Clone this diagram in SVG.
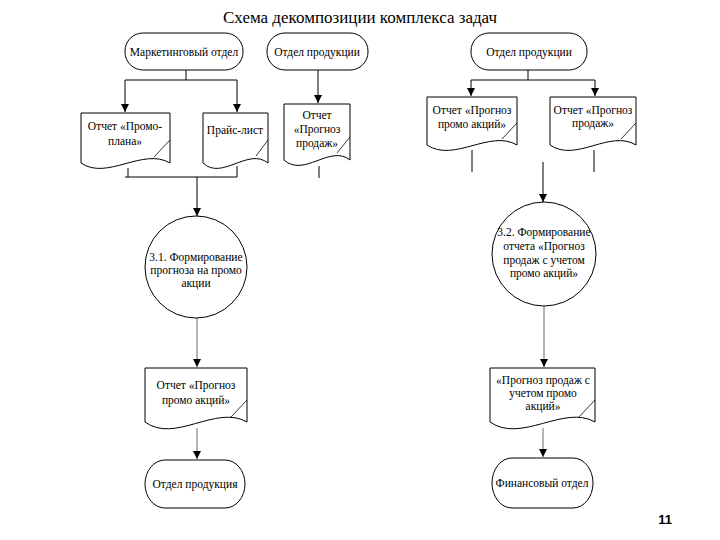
<svg xmlns="http://www.w3.org/2000/svg" width="720" height="540" viewBox="0 0 720 540">
<defs>
<marker id="ar" viewBox="0 0 8 8" refX="8" refY="4" markerWidth="8" markerHeight="8" markerUnits="userSpaceOnUse" orient="auto">
<path d="M0,0 L8,4 L0,8 Z" fill="#000"/>
</marker>
</defs>
<style>
.sh{fill:#fff;stroke:#000;stroke-width:1}
.t{font-family:"Liberation Serif","Times New Roman",serif;font-size:11.5px;fill:#000;text-anchor:middle}
.c{fill:none;stroke:#000;stroke-width:1}
.g{fill:none;stroke:#444;stroke-width:0.8}
.f{fill:none;stroke:#000;stroke-width:0.8}
</style>
<rect width="720" height="540" fill="#fff"/>
<text x="360" y="23" style="font-family:'Liberation Serif','Times New Roman',serif;font-size:17px" text-anchor="middle">Схема декомпозиции комплекса задач</text>

<g id="connectors">
<path class="c" d="M186,70 V80 M125,80 H237"/>
<path class="c" d="M125,80 V112" marker-end="url(#ar)"/>
<path class="c" d="M237,80 V112" marker-end="url(#ar)"/>
<path class="c" d="M318,70 V103" marker-end="url(#ar)"/>
<path class="c" d="M128,168 V177 M237,166 V177 M125,177 H237"/>
<path class="c" d="M197,177 V216" marker-end="url(#ar)"/>
<path class="c" d="M319,166 V178"/>
<path class="g" d="M197,318 V367" marker-end="url(#ar)"/>
<path class="g" d="M197,428 V459" marker-end="url(#ar)"/>
<path class="c" d="M528,70 V80 M471,80 H595"/>
<path class="c" d="M471,80 V96" marker-end="url(#ar)"/>
<path class="c" d="M595,80 V96" marker-end="url(#ar)"/>
<path class="c" d="M472,150 V172 M594,150 V172"/>
<path class="c" d="M543,162 V202" marker-end="url(#ar)"/>
<path class="g" d="M544,306 V367" marker-end="url(#ar)"/>
<path class="g" d="M543,428 V457" marker-end="url(#ar)"/>
</g>

<g id="n-marketing">
<rect class="sh" x="125" y="33" width="118" height="37" rx="18" ry="18"/>
<text class="t" x="184" y="56">Маркетинговый отдел</text>
</g>
<g id="n-prod1">
<rect class="sh" x="267" y="33" width="101" height="37" rx="18" ry="18"/>
<text class="t" x="317" y="56">Отдел продукции</text>
</g>

<g id="n-promoplan">
<path class="sh" d="M81,113 H170 V163 C143,147 107,181 81,163 Z"/>
<path class="f" d="M170,140 L154,157"/>
<text class="t" x="125" y="130">Отчет «Промо-</text>
<text class="t" x="125" y="145">плана»</text>
</g>
<g id="n-price">
<path class="sh" d="M203,113 H268 V163 C248,147 222,181 203,163 Z"/>
<path class="f" d="M268,140 L256,156"/>
<text class="t" x="235" y="134">Прайс-лист</text>
</g>
<g id="n-salesfc1">
<path class="sh" d="M284,104 H350 V160 C330,144 304,178 284,160 Z"/>
<path class="f" d="M350,137 L337,153"/>
<text class="t" x="317" y="119">Отчет</text>
<text class="t" x="317" y="133">«Прогноз</text>
<text class="t" x="317" y="147">продаж»</text>
</g>

<g id="n-p31">
<circle class="sh" cx="196" cy="267" r="51"/>
<text class="t" x="196" y="261">3.1. Формирование</text>
<text class="t" x="196" y="274">прогноза на промо</text>
<text class="t" x="196" y="287">акции</text>
</g>

<g id="n-promofc">
<path class="sh" d="M145,368 H247 V422 C216,404 175,444 145,422 Z"/>
<path class="f" d="M247,400 L230,418"/>
<text class="t" x="196" y="389">Отчет «Прогноз</text>
<text class="t" x="196" y="404">промо акций»</text>
</g>
<g id="n-prod-bottom">
<rect class="sh" x="145" y="460" width="100" height="48" rx="20" ry="24"/>
<text class="t" x="195" y="488">Отдел продукция</text>
</g>

<g id="n-prod2">
<rect class="sh" x="471" y="33" width="116" height="37" rx="18" ry="18"/>
<text class="t" x="529" y="56">Отдел продукции</text>
</g>
<g id="n-promofc2">
<path class="sh" d="M427,97 H517 V145 C490,129 454,163 427,145 Z"/>
<path class="f" d="M517,123 L502,139"/>
<text class="t" x="472" y="114">Отчет «Прогноз</text>
<text class="t" x="472" y="128">промо акций»</text>
</g>
<g id="n-salesfc2">
<path class="sh" d="M550,97 H636 V145 C610,129 576,163 550,145 Z"/>
<path class="f" d="M636,123 L621,139"/>
<text class="t" x="593" y="114">Отчет «Прогноз</text>
<text class="t" x="593" y="127">продаж»</text>
</g>

<g id="n-p32">
<circle class="sh" cx="544" cy="254" r="52"/>
<text class="t" x="544" y="236">3.2. Формирование</text>
<text class="t" x="544" y="250">отчета «Прогноз</text>
<text class="t" x="544" y="264">продаж с учетом</text>
<text class="t" x="544" y="277">промо акций»</text>
</g>

<g id="n-salesfc-final">
<path class="sh" d="M490,368 H595 V422 C564,404 521,444 490,422 Z"/>
<path class="f" d="M595,400 L578,418"/>
<text class="t" x="543" y="384">«Прогноз продаж с</text>
<text class="t" x="543" y="397">учетом промо</text>
<text class="t" x="543" y="410">акций»</text>
</g>
<g id="n-finance">
<rect class="sh" x="492" y="458" width="101" height="50" rx="20" ry="25"/>
<text class="t" x="542" y="487">Финансовый отдел</text>
</g>

<text x="665" y="524" style="font-family:'Liberation Sans',Arial,sans-serif;font-size:13px;font-weight:bold" text-anchor="middle">11</text>
</svg>
